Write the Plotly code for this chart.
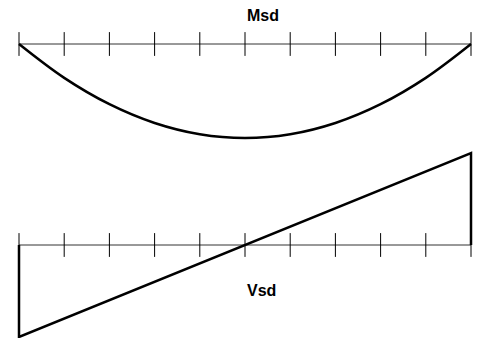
import plotly.graph_objects as go

# Span positions (10 equal segments of the beam)
span_x = [0, 1, 2, 3, 4, 5, 6, 7, 8, 9, 10]
# Bending moment Msd (normalised, positive drawn downwards)
msd = [0.0, 0.36, 0.64, 0.84, 0.96, 1.0, 0.96, 0.84, 0.64, 0.36, 0.0]
# Shear force Vsd diagram outline (normalised)
vsd_x = [0, 0, 10, 10]
vsd = [0.0, -1.0, 1.0, 0.0]
baseline = [0.0] * len(span_x)

fig = go.Figure()

tick_marker = dict(symbol="line-ns-open", size=17, color="black",
                   line=dict(width=1, color="black"))

# Msd baseline with ticks
fig.add_trace(go.Scatter(x=span_x, y=baseline, mode="lines+markers",
                         line=dict(color="#333333", width=1),
                         marker=tick_marker, yaxis="y", hoverinfo="skip"))
fig.add_trace(go.Scatter(x=span_x, y=msd, mode="lines",
                         line=dict(color="black", width=2.5, shape="spline"),
                         yaxis="y", name="Msd"))

# Vsd baseline with ticks
fig.add_trace(go.Scatter(x=span_x, y=baseline, mode="lines+markers",
                         line=dict(color="#333333", width=1),
                         marker=tick_marker, yaxis="y2", hoverinfo="skip"))
fig.add_trace(go.Scatter(x=vsd_x, y=vsd, mode="lines",
                         line=dict(color="black", width=2.5),
                         yaxis="y2", name="Vsd"))

fig.update_layout(
    width=484, height=338,
    margin=dict(l=0, r=0, t=0, b=0),
    paper_bgcolor="white", plot_bgcolor="white",
    showlegend=False,
    xaxis=dict(range=[-19 / 45.2, 10 + 13 / 45.2], visible=False),
    yaxis=dict(range=[294 / 94, -44 / 94], visible=False, domain=[0, 1]),
    yaxis2=dict(range=[-93 / 92, 245 / 92], visible=False, overlaying="y",
                domain=[0, 1]),
    annotations=[
        dict(text="<b>Msd</b>", x=5, xref="x", xanchor="left",
             y=1 - 15 / 338, yref="paper", yanchor="middle", showarrow=False,
             font=dict(family="Liberation Sans, Arial", size=16, color="black")),
        dict(text="<b>Vsd</b>", x=5, xref="x", xanchor="left",
             y=1 - 290 / 338, yref="paper", yanchor="middle", showarrow=False,
             font=dict(family="Liberation Sans, Arial", size=16, color="black")),
    ],
)

fig.write_html("out.html", config={"displayModeBar": False},
               post_script="document.body.style.margin='0';")
